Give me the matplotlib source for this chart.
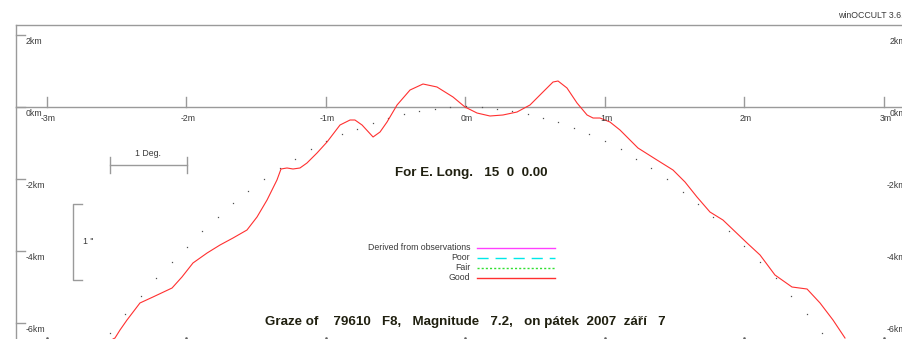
import matplotlib
matplotlib.use("Agg")
import matplotlib.pyplot as plt

# limb profile (Good), x in minutes, y in km
good_m = [-2.523, -2.509, -2.473, -2.423, -2.330, -2.237, -2.100, -2.029, -1.950, -1.849,
          -1.756, -1.663, -1.563, -1.491, -1.419, -1.348, -1.319, -1.276, -1.233, -1.183,
          -1.133, -1.061, -0.989, -0.896, -0.824, -0.789, -0.738, -0.659, -0.609, -0.559,
          -0.487, -0.394, -0.301, -0.201, -0.086, 0.000, 0.086, 0.179, 0.272, 0.373,
          0.466, 0.559, 0.631, 0.667, 0.731, 0.803, 0.875, 0.918, 0.968, 1.039,
          1.111, 1.240, 1.376, 1.491, 1.577, 1.663, 1.756, 1.849, 2.022, 2.115,
          2.222, 2.344, 2.452, 2.545, 2.638, 2.724]
good_km = [-6.444, -6.417, -6.194, -5.917, -5.444, -5.278, -5.028, -4.722, -4.333, -4.056,
           -3.833, -3.639, -3.417, -3.056, -2.583, -2.028, -1.722, -1.694, -1.722, -1.694,
           -1.556, -1.278, -0.972, -0.500, -0.361, -0.361, -0.500, -0.833, -0.694, -0.417,
           0.056, 0.472, 0.639, 0.556, 0.278, 0.000, -0.167, -0.250, -0.222, -0.139,
           0.056, 0.417, 0.694, 0.722, 0.528, 0.111, -0.222, -0.306, -0.306, -0.417,
           -0.639, -1.139, -1.472, -1.750, -2.083, -2.500, -2.917, -3.139, -3.778, -4.111,
           -4.667, -5.000, -5.056, -5.444, -5.917, -6.417]

# mean limb points
limb_m = [-2.545, -2.437, -2.323, -2.215, -2.100, -1.993, -1.885, -1.771, -1.663, -1.556,
          -1.441, -1.326, -1.219, -1.104, -0.996, -0.882, -0.774, -0.659, -0.552, -0.437,
          -0.330, -0.215, -0.108, 0.007, 0.122, 0.229, 0.337, 0.452, 0.559, 0.667,
          0.781, 0.889, 1.004, 1.118, 1.226, 1.333, 1.448, 1.563, 1.670, 1.778,
          1.892, 2.000, 2.115, 2.229, 2.337, 2.452, 2.559]
limb_km = [-6.278, -5.750, -5.250, -4.750, -4.306, -3.889, -3.444, -3.056, -2.667, -2.333,
           -2.000, -1.694, -1.444, -1.167, -0.944, -0.750, -0.611, -0.444, -0.306, -0.194,
           -0.111, -0.056, 0.000, 0.028, 0.000, -0.056, -0.111, -0.194, -0.306, -0.417,
           -0.583, -0.750, -0.944, -1.167, -1.444, -1.694, -2.000, -2.361, -2.694, -3.056,
           -3.444, -3.861, -4.306, -4.750, -5.250, -5.750, -6.278]

x_ticks = [-3, -2, -1, 0, 1, 2, 3]
x_labels = ["-3m", "-2m", "-1m", "0m", "1m", "2m", "3m"]
y_ticks = [2, 0, -2, -4, -6]
y_labels = ["2km", "0km", "-2km", "-4km", "-6km"]

legend_names = ["Derived from observations", "Poor", "Fair", "Good"]
legend_colors = ["#ff40ff", "#00e8e8", "#30e030", "#ff3030"]
legend_styles = ["-", (0, (8, 5)), (0, (1.5, 1.5)), "-"]

# pixel -> data helpers (0m at x=465px, 0km at y=107px)
X0, SX, Y0, SY = 465, 139.5, 107, 36.0
def px(x):
    return (x - X0) / SX
def py(y):
    return (Y0 - y) / SY

W, H = 902, 339
fig = plt.figure(figsize=(W / 100, H / 100), dpi=100)
ax = fig.add_axes([0, 0, 1, 1])
ax.set_xlim(px(0), px(W))
ax.set_ylim(py(H), py(0))
ax.axis("off")

grey = "#9a9a9a"
txt = "#3a3a3a"
small = dict(fontsize=6.3, color=txt, family="Liberation Sans")
bold = dict(fontsize=9.6, color="#202010", family="Liberation Sans", fontweight="bold")

# frame
ax.plot([px(16), px(W)], [py(25), py(25)], color=grey, lw=1)
ax.plot([px(16), px(16)], [py(25), py(H)], color=grey, lw=1)
ax.plot([px(16), px(W)], [0, 0], color=grey, lw=1)
ax.text(px(838), py(15), "winOCCULT 3.6.0", ha="left", va="center", **small)

for t, lab in zip(x_ticks, x_labels):
    ax.plot([t, t], [0, py(97)], color=grey, lw=1)
    ax.text(t + px(X0 + 2), py(118), lab, ha="center", va="center", **small)
    ax.plot([t], [py(338)], marker="s", ms=0.8, color="#606060", lw=0)

for t, lab in zip(y_ticks, y_labels):
    ax.plot([px(16), px(25)], [t, t], color=grey, lw=1)
    ax.text(px(26), t + py(Y0 + 6), lab, ha="left", va="center", **small)
    xr = 887 if lab.startswith("-") else 890
    ax.text(px(xr), t + py(Y0 + 6), lab, ha="left", va="center", **small)

# 1 Deg. scale bar
ax.plot([px(110), px(187)], [py(165), py(165)], color=grey, lw=1)
ax.plot([px(110), px(110)], [py(157), py(173)], color=grey, lw=1)
ax.plot([px(187), px(187)], [py(157), py(173)], color=grey, lw=1)
ax.text(px(148), py(153), "1 Deg.", ha="center", va="center", **small)

# 1" bracket
ax.plot([px(82), px(73), px(73), px(82)], [py(204), py(204), py(280), py(280)], color=grey, lw=1)
ax.text(px(83), py(242), '1 "', ha="left", va="center", **small)

# profile
ax.plot(limb_m, limb_km, ls="none", marker="s", ms=0.9, color="#505050", mew=0)
ax.plot(good_m, good_km, color="#ff3030", lw=0.8)

# legend
for i, (name, c, ls) in enumerate(zip(legend_names, legend_colors, legend_styles)):
    yy = py(248 + 10 * i)
    ax.plot([px(477), px(555)], [yy, yy], color=c, ls=ls, lw=1)
    ax.text(px(470), yy, name, ha="right", va="center", **small)

ax.text(px(471), py(173), "For E. Long.   15  0  0.00", ha="center", va="center", **bold)
ax.text(px(465), py(322), "Graze of    79610   F8,   Magnitude   7.2,   on pátek  2007  září   7",
        ha="center", va="center", **bold)

fig.savefig("out.png", dpi=100, facecolor="white")
